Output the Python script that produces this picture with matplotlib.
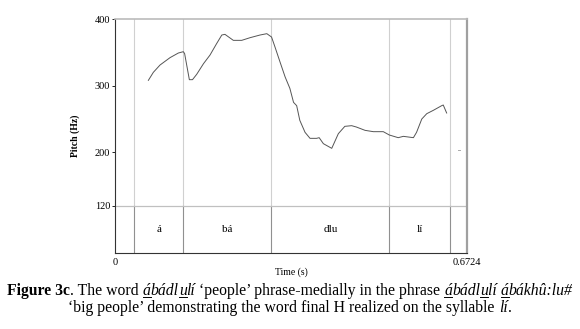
# Pitch track with syllable tier (Praat style) and figure caption
import numpy as np
import matplotlib
matplotlib.use('Agg')
import matplotlib.pyplot as plt

# ----- Data -----
t_max = 0.6724
boundaries = [0.0363, 0.1305, 0.2986, 0.5240, 0.6399]
syllables = ['á', 'bá', 'dlu', 'lí']

pitch_t = [0.0637, 0.0732, 0.086, 0.105, 0.121, 0.1305, 0.133, 0.142, 0.148, 0.156,
           0.169, 0.1815, 0.194, 0.204, 0.210, 0.226, 0.242, 0.258, 0.277, 0.290,
           0.299, 0.3056, 0.315, 0.325, 0.334, 0.341, 0.347, 0.353, 0.363, 0.3725,
           0.385, 0.390, 0.398, 0.414, 0.4266, 0.439, 0.452, 0.461, 0.4776, 0.4935,
           0.5125, 0.524, 0.541, 0.5508, 0.570, 0.576, 0.586, 0.5955, 0.608, 0.624,
           0.627, 0.6335]
pitch_f = [308, 320, 331, 342, 349, 351, 348, 309, 309, 317,
           333, 346, 363, 376, 377, 368, 368, 372, 376, 378,
           373, 358, 336, 313, 296, 275, 270, 248, 230, 221,
           221, 222, 213, 206, 228, 239, 240, 238, 233, 231,
           231, 226, 222, 224, 222, 230, 250, 258, 263, 270,
           271, 259]
stray_t = [0.655, 0.659]
stray_f = [204, 204]

y_ticks = [120, 200, 300, 400]
y_min = 49
tier_top = 120

serif = 'Liberation Serif'

# ----- Figure -----
fig = plt.figure(figsize=(5.8, 3.29), dpi=100)
ax = fig.add_axes([0.1983, 0.231, 0.6069, 0.7112])

ax.set_xlim(0, t_max)
ax.set_ylim(y_min, 400)

# boundaries: light in pitch area, darker in tier
for b in boundaries:
    ax.plot([b, b], [tier_top, 400], color='#d0d0d0', lw=0.8)
    ax.plot([b, b], [y_min, tier_top], color='#909090', lw=0.8)
ax.axhline(tier_top, color='#c0c0c0', lw=0.9)

ax.plot(pitch_t, pitch_f, color='#555555', lw=0.7)
ax.plot(stray_t, stray_f, color='#aaaaaa', lw=0.7)

for i, lab in enumerate(syllables):
    mid = (boundaries[i] + boundaries[i + 1]) / 2
    ax.text(mid, (tier_top + y_min) / 2, lab, ha='center', va='center',
            fontsize=8, family=serif)

ax.set_yticks(y_ticks)
ax.set_yticklabels([str(v) for v in y_ticks], family=serif, fontsize=7.5)
ax.tick_params(axis='y', length=2.5, width=0.6, pad=1)
ax.set_xticks([])
ax.text(0, -0.022, '0', transform=ax.transAxes, ha='center', va='top',
        fontsize=7.5, family=serif)
ax.text(1.0, -0.022, '0.6724', transform=ax.transAxes, ha='center', va='top',
        fontsize=7.5, family=serif)
ax.text(0.5, -0.062, 'Time (s)', transform=ax.transAxes, ha='center', va='top',
        fontsize=7, family=serif)
ax.set_ylabel('Pitch (Hz)', family=serif, fontsize=7, fontweight='bold')
ax.yaxis.set_label_coords(-0.099, 0.5)

ax.spines['left'].set_color('#333333')
ax.spines['bottom'].set_color('#333333')
ax.spines['left'].set_linewidth(0.8)
ax.spines['bottom'].set_linewidth(0.8)
ax.spines['top'].set_color('#bbbbbb')
ax.spines['top'].set_linewidth(1.2)
ax.spines['right'].set_color('#a0a0a0')
ax.spines['right'].set_linewidth(1.6)

# ----- Caption (pieces with mixed styles and underlines) -----
cap_size = 11.3
line1 = [('Figure 3c', 'bold', 'normal', False), ('. The word ', 'normal', 'normal', False),
         ('á', 'normal', 'italic', True), ('bádl', 'normal', 'italic', False),
         ('u', 'normal', 'italic', True), ('lí', 'normal', 'italic', False),
         (' ‘people’ phrase-medially in the phrase ', 'normal', 'normal', False),
         ('á', 'normal', 'italic', True), ('bádl', 'normal', 'italic', False),
         ('u', 'normal', 'italic', True), ('lí ', 'normal', 'italic', False),
         ('á', 'normal', 'italic', True), ('bákhû:lu#', 'normal', 'italic', False)]
line2 = [('‘big people’ demonstrating the word final H realized on the syllable ', 'normal', 'normal', False),
         ('lí', 'normal', 'italic', False), ('.', 'normal', 'normal', False)]

fig.canvas.draw()
rend = fig.canvas.get_renderer()
W, H = fig.bbox.width, fig.bbox.height


def piece_width(s, weight, style):
    t1 = fig.text(0, 0, '|' + s + '|', fontsize=cap_size, family=serif, fontweight=weight, fontstyle=style)
    t2 = fig.text(0, 0, '||', fontsize=cap_size, family=serif, fontweight=weight, fontstyle=style)
    w = t1.get_window_extent(rend).width - t2.get_window_extent(rend).width
    t1.remove()
    t2.remove()
    return w


def draw_line(pieces, y_px):
    widths = [piece_width(p[0], p[1], p[2]) for p in pieces]
    x = (W - sum(widths)) / 2
    for (s, weight, style, ul), w in zip(pieces, widths):
        fig.text(x / W, 1 - y_px / H, s, fontsize=cap_size, family=serif,
                 fontweight=weight, fontstyle=style, va='baseline', ha='left')
        if ul:
            fig.add_artist(plt.Line2D([x / W, (x + w) / W], [1 - (y_px + 2) / H] * 2,
                                      color='black', lw=0.7))
        x += w


draw_line(line1, 295)
draw_line(line2, 312)

fig.savefig('out.png', dpi=100)
